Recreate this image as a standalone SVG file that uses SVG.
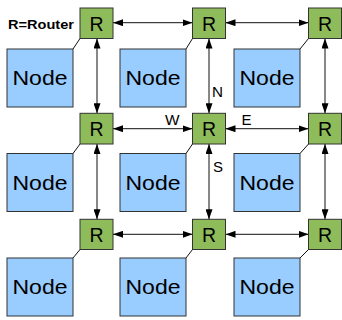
<svg xmlns="http://www.w3.org/2000/svg" width="342" height="320" viewBox="0 0 342 320">
  <style>
    .node rect { fill: #99ccff; stroke: #333; stroke-width: 1; }
    .router rect { fill: #8fbc5a; stroke: #333; stroke-width: 1; }
    .lbl { font-family: "Liberation Sans", Arial, sans-serif; fill: #000; }
    .node text { font-size: 19.5px; text-anchor: middle; }
    .router text { font-size: 19.5px; text-anchor: middle; }
    .dir { font-size: 14.5px; }
    .link { stroke: #111; stroke-width: 1; fill: none; }
    .arrow { marker-start: url(#ah); marker-end: url(#ah); }
  </style>
  <defs>
    <marker id="ah" markerUnits="userSpaceOnUse" markerWidth="10" markerHeight="7" refX="10" refY="3.5" orient="auto-start-reverse">
      <path d="M0,0 L10,3.5 L0,7 z" fill="#000"/>
    </marker>
  </defs>
  <rect width="342" height="320" fill="#fff"/>

  <text class="lbl" x="8" y="28.5" font-size="12.8" font-weight="bold" textLength="66" lengthAdjust="spacingAndGlyphs">R=Router</text>

  <!-- connectors: router-to-node attachments and router mesh links -->
  <g id="connectors">
    <line class="link" x1="73" y1="49" x2="80" y2="38.5"/>
    <line class="link" x1="186" y1="49" x2="192.5" y2="38.5"/>
    <line class="link" x1="300" y1="49" x2="308.5" y2="38.5"/>
    <line class="link" x1="73" y1="153.5" x2="80" y2="144"/>
    <line class="link" x1="186" y1="153.5" x2="192.5" y2="144"/>
    <line class="link" x1="300" y1="153.5" x2="308.5" y2="144"/>
    <line class="link" x1="73" y1="258" x2="80" y2="249.5"/>
    <line class="link" x1="186" y1="258" x2="192.5" y2="249.5"/>
    <line class="link" x1="300" y1="258" x2="308.5" y2="249.5"/>

    <line class="link arrow" x1="113" y1="22.7" x2="192.5" y2="22.7"/>
    <line class="link arrow" x1="225.5" y1="22.7" x2="308.5" y2="22.7"/>
    <line class="link arrow" x1="113" y1="128.7" x2="192.5" y2="128.7"/>
    <line class="link arrow" x1="225.5" y1="128.7" x2="308.5" y2="128.7"/>
    <line class="link arrow" x1="113" y1="234.3" x2="192.5" y2="234.3"/>
    <line class="link arrow" x1="225.5" y1="234.3" x2="308.5" y2="234.3"/>

    <line class="link arrow" x1="97" y1="38.5" x2="97" y2="113.3"/>
    <line class="link arrow" x1="209" y1="38.5" x2="209" y2="113.3"/>
    <line class="link arrow" x1="325" y1="38.5" x2="325" y2="113.3"/>
    <line class="link arrow" x1="97" y1="144" x2="97" y2="219.3"/>
    <line class="link arrow" x1="209" y1="144" x2="209" y2="219.3"/>
    <line class="link arrow" x1="325" y1="144" x2="325" y2="219.3"/>

    <text class="lbl dir" x="212" y="97" textLength="11" lengthAdjust="spacingAndGlyphs">N</text>
    <text class="lbl dir" x="213" y="172" textLength="10" lengthAdjust="spacingAndGlyphs">S</text>
    <text class="lbl dir" x="165" y="125.3" textLength="14.5" lengthAdjust="spacingAndGlyphs">W</text>
    <text class="lbl dir" x="241.5" y="125.3" textLength="10" lengthAdjust="spacingAndGlyphs">E</text>
  </g>

  <!-- routers -->
  <g id="router-1-1" class="router"><rect x="80" y="8" width="33" height="30.5"/><text class="lbl" x="96.5" y="30.5">R</text></g>
  <g id="router-1-2" class="router"><rect x="192.5" y="8" width="33" height="30.5"/><text class="lbl" x="209" y="30.5">R</text></g>
  <g id="router-1-3" class="router"><rect x="308.5" y="8" width="33" height="30.5"/><text class="lbl" x="325" y="30.5">R</text></g>
  <g id="router-2-1" class="router"><rect x="80" y="113.3" width="33" height="30.7"/><text class="lbl" x="96.5" y="135.8">R</text></g>
  <g id="router-2-2" class="router"><rect x="192.5" y="113.3" width="33" height="30.7"/><text class="lbl" x="209" y="135.8">R</text></g>
  <g id="router-2-3" class="router"><rect x="308.5" y="113.3" width="33" height="30.7"/><text class="lbl" x="325" y="135.8">R</text></g>
  <g id="router-3-1" class="router"><rect x="80" y="219.3" width="33" height="30.2"/><text class="lbl" x="96.5" y="241.5">R</text></g>
  <g id="router-3-2" class="router"><rect x="192.5" y="219.3" width="33" height="30.2"/><text class="lbl" x="209" y="241.5">R</text></g>
  <g id="router-3-3" class="router"><rect x="308.5" y="219.3" width="33" height="30.2"/><text class="lbl" x="325" y="241.5">R</text></g>

  <!-- nodes -->
  <g id="node-1-1" class="node"><rect x="7" y="49" width="66" height="58"/><text class="lbl" x="40" y="85" textLength="55" lengthAdjust="spacingAndGlyphs">Node</text></g>
  <g id="node-1-2" class="node"><rect x="120" y="49" width="66" height="58"/><text class="lbl" x="153" y="85" textLength="55" lengthAdjust="spacingAndGlyphs">Node</text></g>
  <g id="node-1-3" class="node"><rect x="234" y="49" width="66" height="58"/><text class="lbl" x="267" y="85" textLength="55" lengthAdjust="spacingAndGlyphs">Node</text></g>
  <g id="node-2-1" class="node"><rect x="7" y="153.5" width="66" height="58"/><text class="lbl" x="40" y="189.5" textLength="55" lengthAdjust="spacingAndGlyphs">Node</text></g>
  <g id="node-2-2" class="node"><rect x="120" y="153.5" width="66" height="58"/><text class="lbl" x="153" y="189.5" textLength="55" lengthAdjust="spacingAndGlyphs">Node</text></g>
  <g id="node-2-3" class="node"><rect x="234" y="153.5" width="66" height="58"/><text class="lbl" x="267" y="189.5" textLength="55" lengthAdjust="spacingAndGlyphs">Node</text></g>
  <g id="node-3-1" class="node"><rect x="7" y="258" width="66" height="58"/><text class="lbl" x="40" y="294" textLength="55" lengthAdjust="spacingAndGlyphs">Node</text></g>
  <g id="node-3-2" class="node"><rect x="120" y="258" width="66" height="58"/><text class="lbl" x="153" y="294" textLength="55" lengthAdjust="spacingAndGlyphs">Node</text></g>
  <g id="node-3-3" class="node"><rect x="234" y="258" width="66" height="58"/><text class="lbl" x="267" y="294" textLength="55" lengthAdjust="spacingAndGlyphs">Node</text></g>
</svg>
